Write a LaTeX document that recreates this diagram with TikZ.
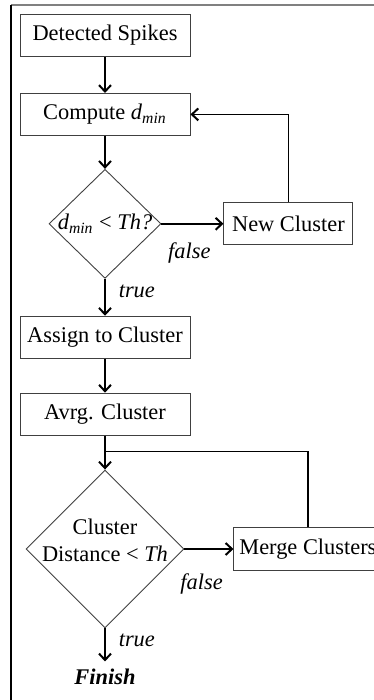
\documentclass[tikz,border=0pt]{standalone}
\usepackage{fontspec}
\setmainfont{Liberation Serif}
\usetikzlibrary{positioning,arrows.meta,shapes.geometric}

\begin{document}
\begin{tikzpicture}[
    font=\fontsize{11.2}{13.5}\selectfont,
    box/.style={rectangle, draw=black!75, line width=0.45pt, minimum width=85pt, minimum height=21pt, inner sep=2pt, align=center},
    decision/.style={diamond, draw=black!75, line width=0.45pt, inner sep=0pt},
    arrow/.style={-{Straight Barb[length=3.2pt,width=6pt,line width=1pt]}, line width=0.8pt},
    link/.style={line width=0.8pt},
    lbl/.style={font=\fontsize{11.2}{13.5}\selectfont\itshape, inner sep=0pt}
]
\clip (0,0) rectangle (187pt,-350pt);
\draw[black!50, line width=0.6pt] (5.5pt,-2.5pt) -- (187pt,-2.5pt);
\draw[line width=0.6pt] (5.5pt,-2.5pt) -- (5.5pt,-350pt);

\node[box] (spikes) at (52.5pt,-17.75pt) {Detected Spikes};
\node[box, below=18pt of spikes] (compute) {Compute \textit{d}\textsubscript{\textit{min}}};
\node[decision, minimum width=56pt, minimum height=54.5pt, below=16.5pt of compute] (test) {};
\node (testtext) at (test.center) {\textit{d}\textsubscript{\textit{min}} < \textit{Th?}};
\node[box, minimum width=64.5pt, right=31pt of test] (newc) {New Cluster};
\node[box, below=18.5pt of test] (assign) {Assign to Cluster};
\node[box, below=17pt of assign] (avrg) {Avrg. Cluster};
\node[decision, minimum width=79pt, minimum height=79pt, below=17pt of avrg] (dist) {};
\node[align=center, yshift=4.5pt] (disttext) at (dist.center) {Cluster\\Distance < \textit{Th}};
\node[box, minimum width=74pt, minimum height=21.5pt, right=24.5pt of dist] (merge) {Merge Clusters};
\node[below=16.5pt of dist, inner sep=3.5pt] (finish) {\textbf{\textit{Finish}}};
\coordinate[below=8pt of avrg] (join);

\draw[arrow] (spikes) -- (compute);
\draw[arrow] (compute) -- (test);
\draw[arrow] (test) -- node[lbl, below=9pt, pos=0.45] (false1) {false} (newc);
\draw[arrow] (newc.north) |- (compute.east);
\draw[arrow] (test) -- node[lbl, right=6.5pt, pos=0.35] (true1) {true} (assign);
\draw[arrow] (assign) -- (avrg);
\draw[arrow] (avrg) -- (dist);
\draw[link] (merge.north) |- (join);
\draw[arrow] (dist) -- node[lbl, below=12pt, pos=0.35] (false2) {false} (merge);
\draw[arrow] (dist) -- node[lbl, right=6.5pt, pos=0.36] (true2) {true} (finish);
\end{tikzpicture}
\end{document}
